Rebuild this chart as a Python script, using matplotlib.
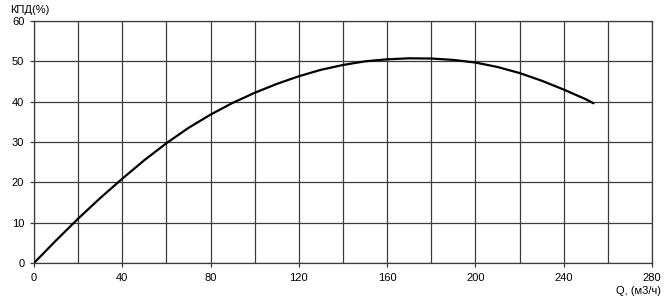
import matplotlib

matplotlib.use("Agg")
import matplotlib.pyplot as plt

# Flow rate Q (m3/h) and efficiency (%)
flow = [0, 10, 20, 30, 40, 50, 60, 70, 80, 90, 100, 110, 120, 130, 140,
        150, 160, 170, 180, 190, 200, 210, 220, 230, 240, 250, 253.5]
efficiency = [0, 5.6, 11.0, 16.1, 20.9, 25.5, 29.7, 33.5, 36.8, 39.7, 42.2,
              44.4, 46.3, 47.9, 49.1, 50.0, 50.5, 50.75, 50.7, 50.35, 49.7,
              48.6, 47.1, 45.2, 43.0, 40.6, 39.6]

x_ticks = list(range(0, 281, 40))
y_ticks = list(range(0, 61, 10))
x_grid = list(range(0, 281, 20))

plt.rcParams["font.family"] = ["Liberation Sans", "DejaVu Sans"]

fig = plt.figure(figsize=(6.69, 2.99), dpi=100)
ax = fig.add_axes([34 / 669, 1 - 263 / 299, 618 / 669, 242 / 299])

grid_color = "#3c3c3c"
for x in x_grid:
    ax.axvline(x, color=grid_color, linewidth=0.9, zorder=1)
for y in y_ticks:
    ax.axhline(y, color=grid_color, linewidth=0.9, zorder=1)

ax.plot(flow, efficiency, color="black", linewidth=1.6, zorder=3,
        solid_joinstyle="round", solid_capstyle="round")

ax.set_xlim(0, 280)
ax.set_ylim(0, 60)
ax.set_xticks(x_ticks)
ax.set_yticks(y_ticks)
ax.tick_params(axis="both", labelsize=8, length=3, width=0.9,
               color=grid_color, pad=4)
for spine in ax.spines.values():
    spine.set_color(grid_color)
    spine.set_linewidth(0.9)

fig.text(10 / 669, 1 - 10 / 299, "КПД(%)", fontsize=8, ha="left", va="center")
fig.text(661 / 669, 1 - 291 / 299, "Q, (м3/ч)", fontsize=8, ha="right", va="center")

fig.savefig("out.png", dpi=100)
